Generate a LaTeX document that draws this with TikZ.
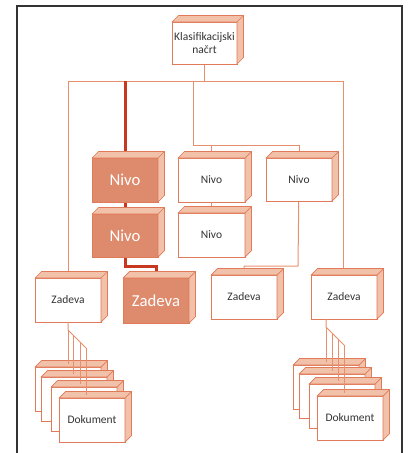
\documentclass[tikz,border=0pt]{standalone}
\usepackage{fontspec}
\setmainfont{Carlito}
\usetikzlibrary{backgrounds,calc}
\definecolor{edge}{HTML}{E07A58}
\definecolor{wire}{HTML}{E8906E}
\definecolor{side}{HTML}{F1C1A9}
\definecolor{hot}{HTML}{DE8A6C}
\definecolor{hotline}{HTML}{C8381F}
\definecolor{ink}{HTML}{333333}
\tikzset{
  box/.style={draw=edge, line width=0.7pt, fill=white, anchor=north west,
    inner sep=0pt, outer sep=0pt, minimum width=66pt, minimum height=44pt,
    text=ink, font=\fontsize{11.5}{13.5}\selectfont, align=center},
  hotbox/.style={box, fill=hot, text=white, font=\fontsize{16.7}{19}\selectfont},
  face/.style={draw=edge, line width=0.7pt, fill=side, line join=round},
  link/.style={draw=wire, line width=1pt},
  hotlink/.style={draw=hotline, line width=3pt},
}
% offset of the receding top and side faces
\newcommand\cubeoff{6.5}
\newcommand\boxfaces[1]{%
  \filldraw[face] (#1.north west) -- ([shift={(\cubeoff,-\cubeoff)}]#1.north west)
    -- ([shift={(\cubeoff,-\cubeoff)}]#1.north east)
    -- ([shift={(\cubeoff,-\cubeoff)}]#1.south east)
    -- (#1.south east) -- (#1.north east) -- cycle;
  \draw[face, fill=none] (#1.north east) -- ([shift={(\cubeoff,-\cubeoff)}]#1.north east);
}
\begin{document}
\begin{tikzpicture}[x=1pt, y=-1pt]
\useasboundingbox (0,0) rectangle (408,453);
% outer frame, open at the bottom
\draw[line width=1.3pt, color=black!80] (17,453) -- (17,6) -- (402,6) -- (402,453);

% root
\node[box, minimum width=65pt, minimum height=42pt] (k) at (172,22) {Klasifikacijski\\načrt};
\boxfaces{k}

% highlighted path
\node[hotbox] (n1) at (92,158) {Nivo};  \boxfaces{n1}
\node[hotbox, minimum height=43pt] (n2) at (92,214) {Nivo};  \boxfaces{n2}
\node[hotbox, minimum height=45pt] (zh) at (123,278) {Zadeva}; \boxfaces{zh}

% other levels
\node[box, minimum width=67pt] (w1) at (178,158) {Nivo}; \boxfaces{w1}
\node[box, minimum height=43pt] (w2) at (266,158) {Nivo}; \boxfaces{w2}
\node[box, minimum width=67pt] (w3) at (178,213) {Nivo}; \boxfaces{w3}

% cases
\node[box] (zl) at (35,278) {Zadeva}; \boxfaces{zl}
\node[box] (zm) at (211,275) {Zadeva}; \boxfaces{zm}
\node[box] (zr) at (311,275) {Zadeva}; \boxfaces{zr}

% document stacks
\node[box] (dl1) at (35,367) {}; \boxfaces{dl1}
\node[box] (dl2) at (41,377) {}; \boxfaces{dl2}
\node[box] (dl3) at (51,387) {}; \boxfaces{dl3}
\node[box] (dl4) at (59,398) {Dokument}; \boxfaces{dl4}
\node[box] (dr1) at (293,365) {}; \boxfaces{dr1}
\node[box] (dr2) at (299,374) {}; \boxfaces{dr2}
\node[box] (dr3) at (309,384) {}; \boxfaces{dr3}
\node[box] (dr4) at (317,396) {Dokument}; \boxfaces{dr4}

% tree connectors sit behind the boxes
\begin{pgfonlayer}{background}
  \coordinate (busL) at (68,81);
  \coordinate (busR) at (343,81);
  \coordinate (busM) at (193,81);
  \coordinate (busH) at (125,81);
  \coordinate (midbar) at (193,145);
  \coordinate (midbend) at (298,266);
  \coordinate (hotbend) at (125,266);
  \draw[link] (k.south) -- (k.south |- busL);
  \draw[link] (busL) -- (busR);
  \draw[link] (busL) -- (busL |- zl.center);
  \draw[link] (busR) -- (busR |- zr.center);
  \draw[link] (busM) -- (midbar) -| (w1.center);
  \draw[link] (midbar) -| (w2.center);
  \draw[link] (w1.center) -- (w3.center);
  \draw[link] (w2.center) -- (midbend) -| (zm.center);
  \draw[hotlink] (busH) -- (n1.center);
  \draw[hotlink] (n1.center) -- (n2.center);
  \draw[hotlink, line join=miter] (n2.center) -- (hotbend) -| (zh.center);
\end{pgfonlayer}

% fans down to the documents
\coordinate (fl0) at (68,330);
\coordinate (fl1) at (73,335);
\coordinate (fl2) at (80,342);
\coordinate (fl3) at (86,348);
\draw[link] (zl.south) -- (fl0) -- (fl3);
\draw[link] (fl0) -- ([yshift=3]fl0 |- dl1.north);
\draw[link] (fl1) -- ([yshift=3]fl1 |- dl2.north);
\draw[link] (fl2) -- ([yshift=3]fl2 |- dl3.north);
\draw[link] (fl3) -- ([yshift=3]fl3 |- dl4.north);

\coordinate (frt) at (326,319);
\coordinate (fr0) at (326,327);
\coordinate (fr1) at (332,333);
\coordinate (fr2) at (338,339);
\coordinate (fr3) at (344,345);
\draw[link] (frt) -- (fr0) -- (fr3);
\draw[link] (fr0) -- ([yshift=3]fr0 |- dr1.north);
\draw[link] (fr1) -- ([yshift=3]fr1 |- dr2.north);
\draw[link] (fr2) -- ([yshift=3]fr2 |- dr3.north);
\draw[link] (fr3) -- ([yshift=3]fr3 |- dr4.north);
\end{tikzpicture}
\end{document}
